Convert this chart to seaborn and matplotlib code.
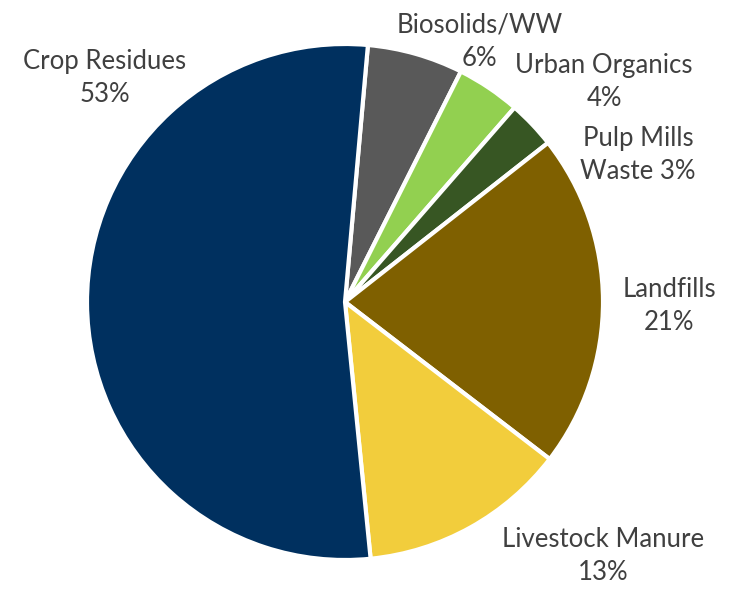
import matplotlib
matplotlib.use("Agg")
import matplotlib.pyplot as plt
import seaborn as sns

sns.set_theme(style="white")
plt.rcParams['font.family'] = ['Lato', 'DejaVu Sans']

categories = ["Biosolids/WW", "Urban Organics", "Pulp Mills Waste", "Landfills",
              "Livestock Manure", "Crop Residues"]
values = [6, 4, 3, 21, 13, 53]
label_texts = ["Biosolids/WW\n6%", "Urban Organics\n4%", "Pulp Mills\nWaste 3%",
               "Landfills\n21%", "Livestock Manure\n13%", "Crop Residues\n53%"]
colors = ["#595959", "#92D050", "#375623", "#7F6000", "#F2CD3C", "#00305F"]

label_pos = [(0.523, 1.008), (1.004, 0.853), (1.136, 0.570),
             (1.256, -0.016), (1.0, -0.984), (-0.93, 0.868)]

fig = plt.figure(figsize=(7.40, 5.89), dpi=100)
fig.patch.set_facecolor("white")
ax = fig.add_axes([(345 - 258) / 740, (589 - 302 - 258) / 589, 516 / 740, 516 / 589])
ax.pie(values, colors=colors, startangle=84.9, counterclock=False,
       wedgeprops=dict(edgecolor="white", linewidth=3))
ax.set_xlim(-1, 1)
ax.set_ylim(-1, 1)
ax.set_aspect("equal")
ax.axis("off")

for txt, (x, y) in zip(label_texts, label_pos):
    ax.text(x, y, txt, ha="center", va="center", fontsize=18.5, color="#404040",
            linespacing=1.4, clip_on=False)

fig.savefig("out.png", dpi=100, facecolor="white")
